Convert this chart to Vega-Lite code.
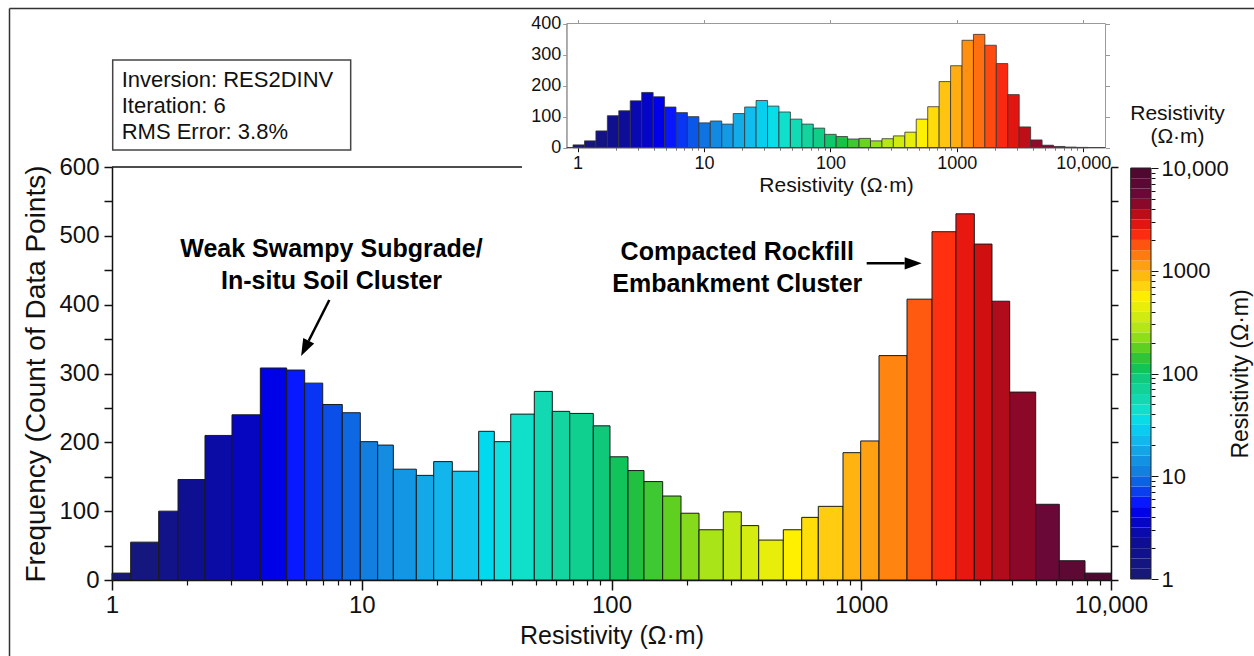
{
  "$schema": "https://vega.github.io/schema/vega-lite/v6.json",
  "width": 1254,
  "height": 656,
  "padding": 0,
  "autosize": {"type": "none"},
  "background": "white",
  "config": {
    "view": {"stroke": null},
    "font": "Liberation Sans",
    "axis": {"grid": false, "labelFont": "Liberation Sans", "titleFont": "Liberation Sans", "labelColor": "#111", "titleColor": "#111", "titleFontWeight": "normal", "labelFlush": false, "labelOverlap": false, "labelBound": false, "tickColor": "#111", "domainColor": "#111"}
  },
  "datasets": {
    "one": [{}],
    "main": [
      {"lo": 1, "hi": 1.188, "count": 10},
      {"lo": 1.188, "hi": 1.538, "count": 55},
      {"lo": 1.538, "hi": 1.838, "count": 100},
      {"lo": 1.838, "hi": 2.357, "count": 146},
      {"lo": 2.357, "hi": 3.023, "count": 210},
      {"lo": 3.023, "hi": 3.926, "count": 240},
      {"lo": 3.926, "hi": 5.006, "count": 308},
      {"lo": 5.006, "hi": 5.909, "count": 305},
      {"lo": 5.909, "hi": 6.978, "count": 286},
      {"lo": 6.978, "hi": 8.358, "count": 255},
      {"lo": 8.358, "hi": 9.867, "count": 243},
      {"lo": 9.867, "hi": 11.58, "count": 201},
      {"lo": 11.58, "hi": 13.38, "count": 196},
      {"lo": 13.38, "hi": 16.54, "count": 161},
      {"lo": 16.54, "hi": 19.41, "count": 152},
      {"lo": 19.41, "hi": 23.05, "count": 172},
      {"lo": 23.05, "hi": 29.39, "count": 158},
      {"lo": 29.39, "hi": 33.95, "count": 216},
      {"lo": 33.95, "hi": 39.49, "count": 201},
      {"lo": 39.49, "hi": 49.08, "count": 241},
      {"lo": 49.08, "hi": 57.94, "count": 274},
      {"lo": 57.94, "hi": 68.03, "count": 245},
      {"lo": 68.03, "hi": 84.56, "count": 242},
      {"lo": 84.56, "hi": 98.62, "count": 224},
      {"lo": 98.62, "hi": 116.4, "count": 179},
      {"lo": 116.4, "hi": 134.9, "count": 159},
      {"lo": 134.9, "hi": 160.3, "count": 143},
      {"lo": 160.3, "hi": 189.8, "count": 122},
      {"lo": 189.8, "hi": 224.1, "count": 97},
      {"lo": 224.1, "hi": 280.3, "count": 73},
      {"lo": 280.3, "hi": 330.9, "count": 99},
      {"lo": 330.9, "hi": 388.5, "count": 79},
      {"lo": 388.5, "hi": 487.4, "count": 58},
      {"lo": 487.4, "hi": 577.5, "count": 73},
      {"lo": 577.5, "hi": 673, "count": 91},
      {"lo": 673, "hi": 845.2, "count": 107},
      {"lo": 845.2, "hi": 994.9, "count": 185},
      {"lo": 994.9, "hi": 1178, "count": 202},
      {"lo": 1178, "hi": 1525, "count": 326},
      {"lo": 1525, "hi": 1920, "count": 408},
      {"lo": 1920, "hi": 2394, "count": 506},
      {"lo": 2394, "hi": 2836, "count": 532},
      {"lo": 2836, "hi": 3338, "count": 488},
      {"lo": 3338, "hi": 3930, "count": 405},
      {"lo": 3930, "hi": 4994, "count": 273},
      {"lo": 4994, "hi": 6209, "count": 110},
      {"lo": 6209, "hi": 7870, "count": 28},
      {"lo": 7870, "hi": 10000, "count": 10}
    ],
    "inset": [
      {"lo": 0.92, "hi": 1.134, "count": 9},
      {"lo": 1.134, "hi": 1.396, "count": 22},
      {"lo": 1.396, "hi": 1.72, "count": 54},
      {"lo": 1.72, "hi": 2.118, "count": 103},
      {"lo": 2.118, "hi": 2.609, "count": 119},
      {"lo": 2.609, "hi": 3.214, "count": 151},
      {"lo": 3.214, "hi": 3.959, "count": 178},
      {"lo": 3.959, "hi": 4.875, "count": 164},
      {"lo": 4.875, "hi": 6.005, "count": 131},
      {"lo": 6.005, "hi": 7.396, "count": 113},
      {"lo": 7.396, "hi": 9.111, "count": 100},
      {"lo": 9.111, "hi": 11.22, "count": 80},
      {"lo": 11.22, "hi": 13.82, "count": 86},
      {"lo": 13.82, "hi": 17.02, "count": 76},
      {"lo": 17.02, "hi": 20.97, "count": 110},
      {"lo": 20.97, "hi": 25.82, "count": 131},
      {"lo": 25.82, "hi": 31.81, "count": 152},
      {"lo": 31.81, "hi": 39.17, "count": 134},
      {"lo": 39.17, "hi": 48.25, "count": 115},
      {"lo": 48.25, "hi": 59.43, "count": 92},
      {"lo": 59.43, "hi": 73.2, "count": 76},
      {"lo": 73.2, "hi": 90.16, "count": 63},
      {"lo": 90.16, "hi": 111.1, "count": 43},
      {"lo": 111.1, "hi": 136.8, "count": 36},
      {"lo": 136.8, "hi": 168.5, "count": 28},
      {"lo": 168.5, "hi": 207.5, "count": 30},
      {"lo": 207.5, "hi": 255.6, "count": 22},
      {"lo": 255.6, "hi": 314.8, "count": 29},
      {"lo": 314.8, "hi": 387.8, "count": 38},
      {"lo": 387.8, "hi": 477.5, "count": 50},
      {"lo": 477.5, "hi": 588.3, "count": 92},
      {"lo": 588.3, "hi": 724.4, "count": 132},
      {"lo": 724.4, "hi": 892.4, "count": 213},
      {"lo": 892.4, "hi": 1099, "count": 264},
      {"lo": 1099, "hi": 1354, "count": 346},
      {"lo": 1354, "hi": 1667, "count": 365},
      {"lo": 1667, "hi": 2053, "count": 330},
      {"lo": 2053, "hi": 2529, "count": 271},
      {"lo": 2529, "hi": 3115, "count": 171},
      {"lo": 3115, "hi": 3837, "count": 67},
      {"lo": 3837, "hi": 4726, "count": 25},
      {"lo": 4726, "hi": 5821, "count": 8},
      {"lo": 5821, "hi": 7170, "count": 4},
      {"lo": 7170, "hi": 8831, "count": 2},
      {"lo": 8831, "hi": 10876, "count": 1}
    ],
    "cbar": [
      {"lo": 1, "hi": 1.259}, {"lo": 1.259, "hi": 1.585}, {"lo": 1.585, "hi": 1.995}, {"lo": 1.995, "hi": 2.512},
      {"lo": 2.512, "hi": 3.162}, {"lo": 3.162, "hi": 3.981}, {"lo": 3.981, "hi": 5.012}, {"lo": 5.012, "hi": 6.31},
      {"lo": 6.31, "hi": 7.943}, {"lo": 7.943, "hi": 10}, {"lo": 10, "hi": 12.59}, {"lo": 12.59, "hi": 15.85},
      {"lo": 15.85, "hi": 19.95}, {"lo": 19.95, "hi": 25.12}, {"lo": 25.12, "hi": 31.62}, {"lo": 31.62, "hi": 39.81},
      {"lo": 39.81, "hi": 50.12}, {"lo": 50.12, "hi": 63.1}, {"lo": 63.1, "hi": 79.43}, {"lo": 79.43, "hi": 100},
      {"lo": 100, "hi": 125.9}, {"lo": 125.9, "hi": 158.5}, {"lo": 158.5, "hi": 199.5}, {"lo": 199.5, "hi": 251.2},
      {"lo": 251.2, "hi": 316.2}, {"lo": 316.2, "hi": 398.1}, {"lo": 398.1, "hi": 501.2}, {"lo": 501.2, "hi": 631},
      {"lo": 631, "hi": 794.3}, {"lo": 794.3, "hi": 1000}, {"lo": 1000, "hi": 1259}, {"lo": 1259, "hi": 1585},
      {"lo": 1585, "hi": 1995}, {"lo": 1995, "hi": 2512}, {"lo": 2512, "hi": 3162}, {"lo": 3162, "hi": 3981},
      {"lo": 3981, "hi": 5012}, {"lo": 5012, "hi": 6310}, {"lo": 6310, "hi": 7943}, {"lo": 7943, "hi": 10000}
    ]
  },
  "resolve": {"scale": {"x": "independent", "y": "independent"}, "axis": {"x": "independent", "y": "independent"}},
  "layer": [
    {
      "data": {"name": "one"},
      "mark": {"type": "rule", "stroke": "#333", "strokeWidth": 1.5},
      "encoding": {
        "x": {"datum": 0, "type": "quantitative", "scale": {"domain": [0, 1], "range": [9.5, 1254], "nice": false, "zero": false}, "axis": null},
        "y": {"datum": 0, "type": "quantitative", "scale": {"domain": [0, 1], "range": [656, 8.5], "nice": false, "zero": false}, "axis": null},
        "y2": {"datum": 1}
      }
    },
    {
      "data": {"name": "one"},
      "mark": {"type": "rule", "stroke": "#333", "strokeWidth": 1.5},
      "encoding": {
        "x": {"datum": 0, "type": "quantitative", "scale": {"domain": [0, 1], "range": [9.5, 1254], "nice": false, "zero": false}, "axis": null},
        "x2": {"datum": 1},
        "y": {"datum": 1, "type": "quantitative", "scale": {"domain": [0, 1], "range": [656, 8.5], "nice": false, "zero": false}, "axis": null}
      }
    },
    {
      "data": {"name": "main"},
      "mark": {"type": "rect", "stroke": "#1a1a1a", "strokeWidth": 1},
      "encoding": {
        "x": {"field": "lo", "type": "quantitative",
          "scale": {"type": "log", "domain": [1, 10000], "range": [112, 1111], "nice": false},
          "axis": {"orient": "bottom", "offset": -76, "values": [1, 10, 100, 1000, 10000], "tickSize": 10, "tickWidth": 1.5, "domainWidth": 1.5,
            "labelExpr": "datum.value == 10000 ? '10,000' : '' + datum.value", "labelFontSize": 24, "labelPadding": 3,
            "title": "Resistivity (Ω·m)", "titleFontSize": 25, "titlePadding": 6}},
        "x2": {"field": "hi"},
        "y": {"field": "count", "type": "quantitative",
          "scale": {"type": "linear", "domain": [0, 600], "range": [580, 167], "nice": false, "zero": false},
          "axis": {"orient": "left", "offset": -112, "values": [0, 50, 100, 150, 200, 250, 300, 350, 400, 450, 500, 550, 600], "tickSize": 8, "tickWidth": 1.5, "domainWidth": 1.5,
            "labelExpr": "datum.value % 100 == 0 ? '' + datum.value : ''", "labelFontSize": 24, "labelPadding": 5,
            "title": "Frequency (Count of Data Points)", "titleFontSize": 28, "titlePadding": 8}},
        "y2": {"datum": 0},
        "color": {"field": "lo", "type": "quantitative", "legend": null,
          "scale": {"type": "log", "clamp": true, "interpolate": "rgb",
            "domain": [1, 2, 3, 3.9, 5, 7, 10, 16.5, 23, 29, 34, 40, 58, 68, 85, 100, 116, 160, 224, 330, 487, 673, 1000, 1525, 1920, 2400, 2840, 3340, 3930, 5000, 7870, 10000],
            "range": ["#181878", "#0e0e94", "#0606c0", "#0000e6", "#0818ff", "#0a50e8", "#1280e0", "#14a8e8", "#10c4f0", "#00d8f0", "#10e0e0", "#10e0c8", "#14d4a0", "#10d090", "#10c878", "#10c458", "#20c040", "#60d020", "#a8e418", "#d4ec10", "#fff000", "#ffcc10", "#ffa010", "#ff5a10", "#ff3010", "#e81810", "#d01010", "#b00c1c", "#8c0828", "#6a0838", "#500830", "#4a0830"]}}
      }
    },
    {
      "data": {"name": "one"},
      "mark": {"type": "rule", "stroke": "#111", "strokeWidth": 1.5},
      "encoding": {
        "x": {"datum": 1, "type": "quantitative",
          "scale": {"type": "log", "domain": [1, 10000], "range": [112, 1111], "nice": false},
          "axis": {"orient": "bottom", "offset": -76, "values": [2, 3, 4, 5, 6, 7, 8, 9, 20, 30, 40, 50, 60, 70, 80, 90, 200, 300, 400, 500, 600, 700, 800, 900, 2000, 3000, 4000, 5000, 6000, 7000, 8000, 9000], "tickSize": 5, "tickWidth": 1.2, "labels": false, "domain": false, "title": null}},
        "x2": {"datum": 43.8},
        "y": {"datum": 600, "type": "quantitative",
          "scale": {"type": "linear", "domain": [0, 600], "range": [580, 167], "nice": false, "zero": false},
          "axis": {"orient": "right", "offset": -143, "values": [0, 50, 100, 150, 200, 250, 300, 350, 400, 450, 500, 550, 600], "tickSize": 7, "tickWidth": 1.5, "domainWidth": 1.5, "labels": false, "title": null}}
      }
    },
    {
      "data": {"name": "one"},
      "mark": {"type": "rect", "fill": null, "stroke": "#444", "strokeWidth": 1.5},
      "encoding": {
        "x": {"datum": 1.0065, "type": "quantitative", "scale": {"type": "log", "domain": [1, 10000], "range": [112, 1111], "nice": false}, "axis": null},
        "x2": {"datum": 9.03},
        "y": {"datum": 624.7, "type": "quantitative", "scale": {"type": "linear", "domain": [0, 600], "range": [580, 167], "nice": false, "zero": false}, "axis": null},
        "y2": {"datum": 755.5}
      }
    },
    {
      "data": {"name": "one"},
      "mark": {"type": "text", "text": ["Inversion: RES2DINV", "Iteration: 6", "RMS Error: 3.8%"], "align": "left", "baseline": "alphabetic", "fontSize": 22, "lineHeight": 26, "color": "#111", "font": "Liberation Sans"},
      "encoding": {
        "x": {"datum": 1.0935, "type": "quantitative", "scale": {"type": "log", "domain": [1, 10000], "range": [112, 1111], "nice": false}, "axis": null},
        "y": {"datum": 715.8, "type": "quantitative", "scale": {"type": "linear", "domain": [0, 600], "range": [580, 167], "nice": false, "zero": false}, "axis": null}
      }
    },
    {
      "data": {"name": "one"},
      "mark": {"type": "text", "text": ["Weak Swampy Subgrade/", "In-situ Soil Cluster"], "align": "center", "baseline": "alphabetic", "fontSize": 25, "fontWeight": "bold", "lineHeight": 32, "color": "#000", "font": "Liberation Sans"},
      "encoding": {
        "x": {"datum": 7.565, "type": "quantitative", "scale": {"type": "log", "domain": [1, 10000], "range": [112, 1111], "nice": false}, "axis": null},
        "y": {"datum": 469.7, "type": "quantitative", "scale": {"type": "linear", "domain": [0, 600], "range": [580, 167], "nice": false, "zero": false}, "axis": null}
      }
    },
    {
      "data": {"name": "one"},
      "mark": {"type": "text", "text": ["Compacted Rockfill", "Embankment Cluster"], "align": "center", "baseline": "alphabetic", "fontSize": 25, "fontWeight": "bold", "lineHeight": 32, "color": "#000", "font": "Liberation Sans"},
      "encoding": {
        "x": {"datum": 318.9, "type": "quantitative", "scale": {"type": "log", "domain": [1, 10000], "range": [112, 1111], "nice": false}, "axis": null},
        "y": {"datum": 464.9, "type": "quantitative", "scale": {"type": "linear", "domain": [0, 600], "range": [580, 167], "nice": false, "zero": false}, "axis": null}
      }
    },
    {
      "data": {"name": "one"},
      "mark": {"type": "rule", "stroke": "#000", "strokeWidth": 2.5},
      "encoding": {
        "x": {"datum": 7.416, "type": "quantitative", "scale": {"type": "log", "domain": [1, 10000], "range": [112, 1111], "nice": false}, "axis": null},
        "x2": {"datum": 6.133},
        "y": {"datum": 406.8, "type": "quantitative", "scale": {"type": "linear", "domain": [0, 600], "range": [580, 167], "nice": false, "zero": false}, "axis": null},
        "y2": {"datum": 347.5}
      }
    },
    {
      "data": {"name": "one"},
      "mark": {"type": "point", "shape": "M0,-1L0.36,0L-0.36,0Z", "filled": true, "color": "#000", "opacity": 1, "size": 1156, "angle": 206.8},
      "encoding": {
        "x": {"datum": 6.133, "type": "quantitative", "scale": {"type": "log", "domain": [1, 10000], "range": [112, 1111], "nice": false}, "axis": null},
        "y": {"datum": 347.5, "type": "quantitative", "scale": {"type": "linear", "domain": [0, 600], "range": [580, 167], "nice": false, "zero": false}, "axis": null}
      }
    },
    {
      "data": {"name": "one"},
      "mark": {"type": "rule", "stroke": "#000", "strokeWidth": 2.5},
      "encoding": {
        "x": {"datum": 1051.5, "type": "quantitative", "scale": {"type": "log", "domain": [1, 10000], "range": [112, 1111], "nice": false}, "axis": null},
        "x2": {"datum": 1492.8},
        "y": {"datum": 460.1, "type": "quantitative", "scale": {"type": "linear", "domain": [0, 600], "range": [580, 167], "nice": false, "zero": false}, "axis": null}
      }
    },
    {
      "data": {"name": "one"},
      "mark": {"type": "point", "shape": "M0,-1L0.36,0L-0.36,0Z", "filled": true, "color": "#000", "opacity": 1, "size": 1156, "angle": 90},
      "encoding": {
        "x": {"datum": 1492.8, "type": "quantitative", "scale": {"type": "log", "domain": [1, 10000], "range": [112, 1111], "nice": false}, "axis": null},
        "y": {"datum": 460.1, "type": "quantitative", "scale": {"type": "linear", "domain": [0, 600], "range": [580, 167], "nice": false, "zero": false}, "axis": null}
      }
    },
    {
      "data": {"name": "one"},
      "mark": {"type": "rect", "fill": null, "stroke": "#9a9a9a", "strokeWidth": 1},
      "encoding": {
        "x": {"datum": 0.82, "type": "quantitative",
          "scale": {"type": "log", "domain": [0.82, 15000], "range": [566.7, 1105.5], "nice": false},
          "axis": {"orient": "top", "offset": -23.5, "values": [1, 10, 100, 1000, 10000], "tickSize": 4, "tickColor": "#999", "labels": false, "domain": false, "title": null}},
        "x2": {"datum": 15000},
        "y": {"datum": 0, "type": "quantitative",
          "scale": {"type": "linear", "domain": [0, 400], "range": [147.7, 23.5], "nice": false, "zero": false},
          "axis": {"orient": "right", "offset": -148.5, "values": [0, 100, 200, 300, 400], "tickSize": 4, "tickColor": "#999", "labels": false, "domain": false, "title": null}},
        "y2": {"datum": 400}
      }
    },
    {
      "data": {"name": "inset"},
      "mark": {"type": "rect", "stroke": "#333", "strokeWidth": 0.8},
      "encoding": {
        "x": {"field": "lo", "type": "quantitative",
          "scale": {"type": "log", "domain": [0.82, 15000], "range": [566.7, 1105.5], "nice": false},
          "axis": {"orient": "bottom", "offset": -508.3, "values": [1, 10, 100, 1000, 10000], "tickSize": 4, "domain": false,
            "labelExpr": "datum.value == 10000 ? '10,000' : '' + datum.value", "labelFontSize": 18, "labelPadding": 3,
            "title": "Resistivity (Ω·m)", "titleFontSize": 21, "titlePadding": 2}},
        "x2": {"field": "hi"},
        "y": {"field": "count", "type": "quantitative",
          "scale": {"type": "linear", "domain": [0, 400], "range": [147.7, 23.5], "nice": false, "zero": false},
          "axis": {"orient": "left", "offset": -566.7, "values": [0, 100, 200, 300, 400], "tickSize": 4, "domainColor": "#999", "tickColor": "#999",
            "labelFontSize": 18, "labelPadding": 2, "title": null}},
        "y2": {"datum": 0},
        "color": {"field": "lo", "type": "quantitative", "legend": null,
          "scale": {"type": "log", "clamp": true, "interpolate": "rgb",
            "domain": [1, 2, 3, 3.9, 5, 7, 10, 16.5, 23, 29, 34, 40, 58, 68, 85, 100, 116, 160, 224, 330, 487, 673, 1000, 1525, 1920, 2400, 2840, 3340, 3930, 5000, 7870, 10000],
            "range": ["#181878", "#0e0e94", "#0606c0", "#0000e6", "#0818ff", "#0a50e8", "#1280e0", "#14a8e8", "#10c4f0", "#00d8f0", "#10e0e0", "#10e0c8", "#14d4a0", "#10d090", "#10c878", "#10c458", "#20c040", "#60d020", "#a8e418", "#d4ec10", "#fff000", "#ffcc10", "#ffa010", "#ff5a10", "#ff3010", "#e81810", "#d01010", "#b00c1c", "#8c0828", "#6a0838", "#500830", "#4a0830"]}}
      }
    },
    {
      "data": {"name": "one"},
      "mark": {"type": "rule", "stroke": "#444", "strokeWidth": 1.2},
      "encoding": {
        "x": {"datum": 0.82, "type": "quantitative",
          "scale": {"type": "log", "domain": [0.82, 15000], "range": [566.7, 1105.5], "nice": false},
          "axis": {"orient": "bottom", "offset": -508.3, "values": [2, 3, 4, 5, 6, 7, 8, 9, 20, 30, 40, 50, 60, 70, 80, 90, 200, 300, 400, 500, 600, 700, 800, 900, 2000, 3000, 4000, 5000, 6000, 7000, 8000, 9000], "tickSize": 2.5, "tickColor": "#777", "labels": false, "domain": false, "title": null}},
        "x2": {"datum": 15000},
        "y": {"datum": 0, "type": "quantitative", "scale": {"type": "linear", "domain": [0, 400], "range": [147.7, 23.5], "nice": false, "zero": false}, "axis": null}
      }
    },
    {
      "data": {"name": "cbar"},
      "mark": {"type": "rect", "strokeWidth": 0},
      "encoding": {
        "x": {"datum": 0, "type": "quantitative",
          "scale": {"domain": [0, 1], "range": [1130.7, 1151], "nice": false, "zero": false},
          "axis": {"orient": "top", "offset": -168, "ticks": false, "labels": false, "domain": false,
            "title": ["Resistivity", "(Ω·m)"], "titleFontSize": 21, "titleX": 1177, "titlePadding": 22, "titleLineHeight": 23}},
        "x2": {"datum": 1},
        "y": {"field": "lo", "type": "quantitative",
          "scale": {"type": "log", "domain": [1, 10000], "range": [579, 168], "nice": false},
          "axis": {"orient": "right", "offset": -103, "values": [1, 10, 100, 1000, 10000], "tickSize": 7, "domain": false,
            "labelExpr": "datum.value == 10000 ? '10,000' : '' + datum.value", "labelFontSize": 22, "labelPadding": 3,
            "title": "Resistivity (Ω·m)", "titleFontSize": 23, "titleAngle": 270, "titlePadding": 24}},
        "y2": {"field": "hi"},
        "color": {"field": "lo", "type": "quantitative", "legend": null,
          "scale": {"type": "log", "clamp": true, "interpolate": "rgb",
            "domain": [1, 2, 3, 3.9, 5, 7, 10, 16.5, 23, 29, 34, 40, 58, 68, 85, 100, 116, 160, 224, 330, 487, 673, 1000, 1525, 1920, 2400, 2840, 3340, 3930, 5000, 7870, 10000],
            "range": ["#181878", "#0e0e94", "#0606c0", "#0000e6", "#0818ff", "#0a50e8", "#1280e0", "#14a8e8", "#10c4f0", "#00d8f0", "#10e0e0", "#10e0c8", "#14d4a0", "#10d090", "#10c878", "#10c458", "#20c040", "#60d020", "#a8e418", "#d4ec10", "#fff000", "#ffcc10", "#ffa010", "#ff5a10", "#ff3010", "#e81810", "#d01010", "#b00c1c", "#8c0828", "#6a0838", "#500830", "#4a0830"]}}
      }
    },
    {
      "data": {"name": "one"},
      "mark": {"type": "rect", "fill": null, "stroke": "#222", "strokeWidth": 1},
      "encoding": {
        "x": {"datum": 0, "type": "quantitative", "scale": {"domain": [0, 1], "range": [1130.7, 1151], "nice": false, "zero": false}, "axis": null},
        "x2": {"datum": 1},
        "y": {"datum": 1, "type": "quantitative",
          "scale": {"type": "log", "domain": [1, 10000], "range": [579, 168], "nice": false},
          "axis": {"orient": "right", "offset": -103, "values": [2, 3, 4, 5, 6, 7, 8, 9, 20, 30, 40, 50, 60, 70, 80, 90, 200, 300, 400, 500, 600, 700, 800, 900, 2000, 3000, 4000, 5000, 6000, 7000, 8000, 9000], "tickSize": 4, "labels": false, "domain": false, "title": null}},
        "y2": {"datum": 10000}
      }
    }
  ]
}
